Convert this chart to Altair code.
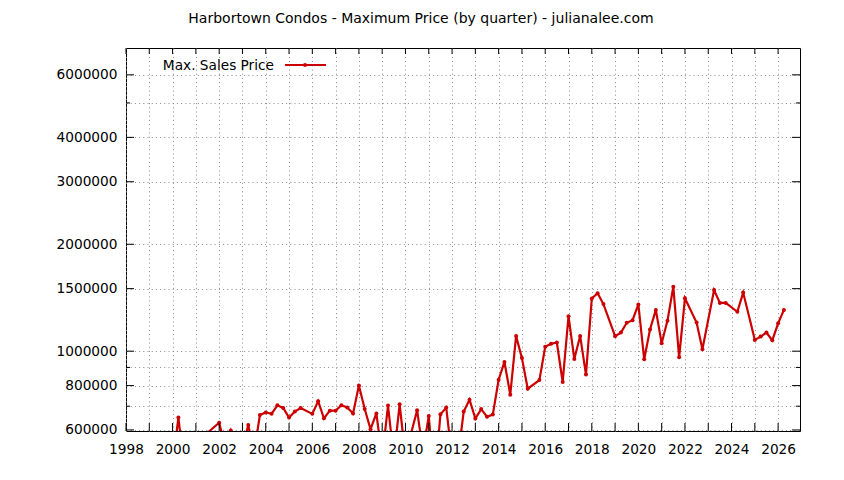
import altair as alt
import pandas as pd

# ---- data (quarterly maximum sale price) ----
quarters = [
    "2000Q1", "2000Q2", "2000Q3", "2000Q4", "2001Q1", "2001Q2", "2001Q3",
    "2002Q1", "2002Q2", "2002Q3", "2002Q4", "2003Q1", "2003Q2", "2003Q3", "2003Q4",
    "2004Q1", "2004Q2", "2004Q3", "2004Q4", "2005Q1", "2005Q2", "2005Q3",
    "2006Q1", "2006Q2", "2006Q3", "2006Q4", "2007Q1", "2007Q2", "2007Q3", "2007Q4",
    "2008Q1", "2008Q2", "2008Q3", "2008Q4", "2009Q1", "2009Q2", "2009Q3", "2009Q4",
    "2010Q1", "2010Q2", "2010Q3", "2010Q4", "2011Q1", "2011Q2", "2011Q3", "2011Q4",
    "2012Q1", "2012Q2", "2012Q3", "2012Q4", "2013Q1", "2013Q2", "2013Q3", "2013Q4",
    "2014Q1", "2014Q2", "2014Q3", "2014Q4", "2015Q1", "2015Q2", "2015Q4",
    "2016Q1", "2016Q2", "2016Q3", "2016Q4", "2017Q1", "2017Q2", "2017Q3", "2017Q4",
    "2018Q1", "2018Q2", "2018Q3", "2019Q1", "2019Q2", "2019Q3", "2019Q4",
    "2020Q1", "2020Q2", "2020Q3", "2020Q4", "2021Q1", "2021Q2", "2021Q3", "2021Q4",
    "2022Q1", "2022Q3", "2022Q4", "2023Q2", "2023Q3", "2023Q4",
    "2024Q2", "2024Q3", "2025Q1", "2025Q2", "2025Q3", "2025Q4", "2026Q1", "2026Q2",
]
prices = [
    480000, 650000, 470000, 450000, 460000, 470000, 589000,
    629000, 540000, 598000, 540000, 530000, 620000, 520000, 661000,
    672000, 666000, 704000, 692000, 650000, 676000, 692000,
    666000, 723000, 647000, 680000, 680000, 704000, 694000, 668000,
    800000, 687000, 603000, 668000, 500000, 703000, 500000, 709000,
    500000, 590000, 682000, 520000, 657000, 420000, 664000, 694000,
    500000, 500000, 676000, 730000, 646000, 687000, 654000, 663000,
    831000, 933000, 754000, 1104000, 956000, 784000, 829000,
    1029000, 1049000, 1058000, 819000, 1254000, 951000, 1104000, 859000,
    1407000, 1456000, 1357000, 1102000, 1128000, 1202000, 1223000,
    1354000, 949000, 1151000, 1307000, 1053000, 1219000, 1519000, 961000,
    1409000, 1204000, 1013000, 1486000, 1367000, 1367000,
    1291000, 1462000, 1076000, 1099000, 1128000, 1073000, 1198000, 1307000,
]

x_years = list(range(1998, 2027))
y_ticks = [600000, 700000, 800000, 900000, 1000000, 1500000, 2000000,
           3000000, 4000000, 5000000, 6000000]
y_labeled = [600000, 800000, 1000000, 1500000, 2000000, 3000000, 4000000, 6000000]
y_minor = [700000, 900000, 5000000]

title_text = "Harbortown Condos - Maximum Price (by quarter) - julianalee.com"
legend_text = "Max. Sales Price"

RED = "#cc0000"
FONT = "DejaVu Sans"
W, H = 674, 383


def qpos(s):
    y, q = s.split("Q")
    return int(y) + (int(q) - 1) / 4


df = pd.DataFrame({"year": [qpos(q) for q in quarters], "price": prices})
major_df = pd.DataFrame({"price": y_labeled})
minor_df = pd.DataFrame({"price": y_minor})
xt_df = pd.DataFrame({"year": x_years})

xs = alt.Scale(domain=[1998, 2026.94], nice=False, zero=False)
ys = alt.Scale(type="log", domain=[596000, 7140000], nice=False)

lab_list = "[" + ",".join(str(v) for v in y_labeled) + "]"

x_axis = alt.Axis(values=x_years, format="d", title=None,
                  labelExpr="datum.value % 2 == 0 ? datum.label : ''",
                  labelPadding=11, labelFlush=False, labelOverlap=False)
y_axis = alt.Axis(values=y_ticks, format="d", title=None,
                  labelExpr="indexof(" + lab_list + ", datum.value) >= 0 ? datum.label : ''",
                  labelPadding=9, labelOverlap=False)

XE = alt.X("year:Q", scale=xs, axis=x_axis)
YE = alt.Y("price:Q", scale=ys, axis=y_axis)

line = alt.Chart(df).mark_line(color=RED, strokeWidth=2.2, clip=True).encode(x=XE, y=YE)
pts = alt.Chart(df).mark_circle(color=RED, size=16, opacity=1, clip=True).encode(x=XE, y=YE)

# inward tick marks (gnuplot style)
left_major = alt.Chart(major_df).mark_rule(color="black").encode(
    y=YE, x=alt.value(0), x2=alt.value(8))
right_major = alt.Chart(major_df).mark_rule(color="black").encode(
    y=YE, x=alt.value(W), x2=alt.value(W - 8))
left_minor = alt.Chart(minor_df).mark_rule(color="black").encode(
    y=YE, x=alt.value(0), x2=alt.value(4))
right_minor = alt.Chart(minor_df).mark_rule(color="black").encode(
    y=YE, x=alt.value(W), x2=alt.value(W - 4))
bottom_t = alt.Chart(xt_df).mark_rule(color="black").encode(
    x=XE, y=alt.value(H), y2=alt.value(H - 8))
top_t = alt.Chart(xt_df).mark_rule(color="black").encode(
    x=XE, y=alt.value(0), y2=alt.value(6))

# title and key
title = alt.Chart(pd.DataFrame({"t": [title_text]})).mark_text(
    font=FONT, fontSize=14, color="black", align="center", baseline="middle"
).encode(text="t:N", x=alt.value(295), y=alt.value(-29))
key_text = alt.Chart(pd.DataFrame({"t": [legend_text]})).mark_text(
    font=FONT, fontSize=13.7, color="black", align="right", baseline="middle"
).encode(text="t:N", x=alt.value(148), y=alt.value(18))
key_line = alt.Chart(pd.DataFrame({"t": [legend_text]})).mark_rule(
    color=RED, strokeWidth=2.2).encode(x=alt.value(159), x2=alt.value(200), y=alt.value(17))
key_pt = alt.Chart(pd.DataFrame({"t": [legend_text]})).mark_circle(
    color=RED, size=16, opacity=1).encode(x=alt.value(179), y=alt.value(17))

chart = alt.layer(
    line, pts, left_major, right_major, left_minor, right_minor, bottom_t, top_t,
    title, key_text, key_line, key_pt,
).properties(
    width=W, height=H,
    autosize=alt.AutoSizeParams(type="none"),
    padding={"left": 118, "top": 40, "right": 36, "bottom": 49},
).configure_view(
    stroke="black", strokeWidth=1
).configure_axis(
    labelFont=FONT, labelFontSize=13.7, labelColor="black",
    grid=True, gridColor="#8a8a8a", gridDash=[1, 3.2], gridWidth=1,
    domain=False, ticks=False,
)

chart.save("out.html", embed_options={"renderer": "svg", "actions": False})
